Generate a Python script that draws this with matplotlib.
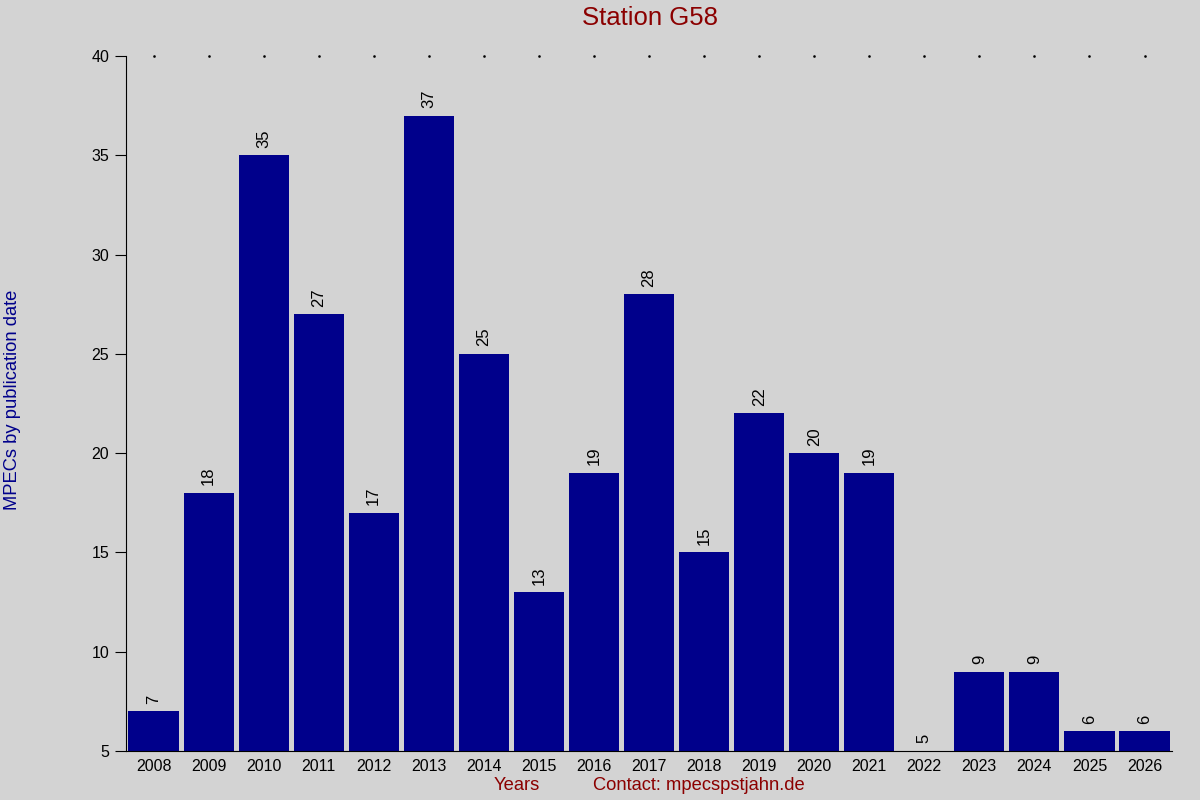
import numpy as np
import matplotlib.pyplot as plt

plt.rcParams['font.family'] = ['Liberation Sans', 'DejaVu Sans']

# MPECs per year
years = ['2008', '2009', '2010', '2011', '2012', '2013', '2014', '2015', '2016', '2017',
         '2018', '2019', '2020', '2021', '2022', '2023', '2024', '2025', '2026']
counts = [7, 18, 35, 27, 17, 37, 25, 13, 19, 28, 15, 22, 20, 19, 5, 9, 9, 6, 6]
y_ticks = [5, 10, 15, 20, 25, 30, 35, 40]

bg = '#d3d3d3'
bar_color = '#00008b'
red = '#8b0000'

fig = plt.figure(figsize=(12, 8), dpi=100, facecolor=bg)
ax = fig.add_axes([0.105, 0.06125, 0.8717, 0.86875], facecolor=bg)

x = np.arange(len(years))
ymin = 5
ax.bar(x, np.array(counts) - ymin, bottom=ymin, width=0.91, color=bar_color)

for xi, c in zip(x, counts):
    ax.annotate(str(c), (xi, c), xytext=(0, 5.5), textcoords='offset points',
                rotation=90, ha='center', va='bottom', fontsize=12)

# dotted marks along the top
ax.plot(x, np.full(len(x), 40), linestyle='none', marker='s', markersize=0.8,
        color='black', clip_on=False)

ax.set_xlim(-0.5, len(years) - 0.5)
ax.set_ylim(5, 40)
ax.set_xticks(x)
ax.set_xticklabels(years, fontsize=11.5)
ax.set_yticks(y_ticks)
ax.tick_params(axis='y', direction='out', length=8, labelsize=11.5, pad=4)
ax.tick_params(axis='x', length=0, pad=6)
ax.spines['top'].set_visible(False)
ax.spines['right'].set_visible(False)

fig.text(0.5417, 0.977, 'Station G58', color=red, fontsize=18.5, ha='center', va='center')
fig.text(0.431, 0.018, 'Years', color=red, fontsize=13.2, ha='center', va='center')
fig.text(0.582, 0.018, 'Contact: mpecspstjahn.de', color=red, fontsize=13.2, ha='center', va='center')
fig.text(0.0105, 0.5, 'MPECs by publication date', color=bar_color, fontsize=13.2,
         rotation=90, ha='center', va='center')

fig.savefig('out.png', dpi=100, facecolor=bg)
